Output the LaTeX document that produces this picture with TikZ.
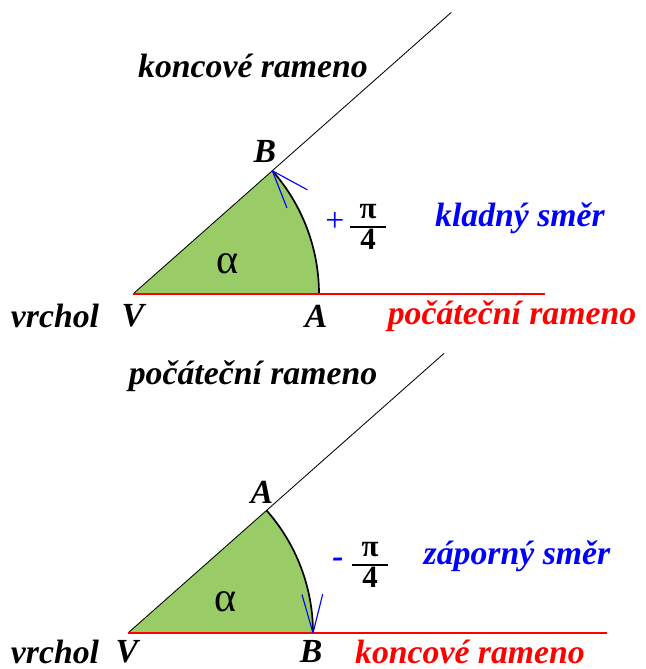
\documentclass[tikz,border=0pt]{standalone}
\usepackage{fontspec}
\setmainfont{Liberation Serif}
\usetikzlibrary{positioning}

\definecolor{sektor}{RGB}{153,204,102}
\newcommand{\ctvrtpi}{${\hbox to 25pt{\hss\raisebox{3pt}{π}\hss}\above1.4pt\hbox{\lower3pt\hbox{4}}}$}
\tikzset{
    popis/.style={font=\fontsize{24}{28}\selectfont\bfseries\itshape, inner sep=0pt},
    modry/.style={popis, text=blue},
    cerveny/.style={popis, text=red},
    znamenko/.style={font=\fontsize{24}{28}\selectfont, text=blue, inner sep=0pt},
    zlomek/.style={font=\fontsize{22}{26}\selectfont\bfseries, inner sep=0pt},
    alfa/.style={font=\fontsize{30}{30}\selectfont, inner sep=0pt},
    rameno/.style={draw=black, line width=0.6pt},
    pocatek/.style={draw=red, line width=1.4pt},
    oblouk/.style={draw=black, line width=1.2pt},
    sipka/.style={draw=blue, line width=0.8pt}
}

\begin{document}
\begin{tikzpicture}[x=0.025cm, y=0.025cm, node distance=8]

            \useasboundingbox (0,0) rectangle (645,669);

            % horni obrazek - kladny smer
            \coordinate (V1) at (133,375);
            \path (V1) ++(0:186) coordinate (A1);
            \path (V1) ++(41.5:186) coordinate (B1);
            \path (V1) ++(41.5:425) coordinate (K1);
            \coordinate (R1) at (545,375);

            \fill[sektor] (V1) -- (A1) arc[start angle=0, end angle=41.5, radius=186] -- cycle;
            \draw[oblouk] (A1) arc[start angle=0, end angle=41.5, radius=186];
            \draw[rameno] (V1) -- (K1);
            \draw[pocatek] (V1) -- (R1);
            \draw[sipka] (B1) -- ++(-28.5:40);
            \draw[sipka] (B1) -- ++(-68.5:40);

            \node[popis] (koncove1) at (253,603) {koncové rameno};
            \node[popis] (labB1) at (265,517) {B};
            \node[alfa] (alfa1) at (228,405) {α};
            \node[popis] (vrchol1) at (55,353) {vrchol};
            \node[popis] (labV1) at (133,353) {V};
            \node[popis] (labA1) at (316,353) {A};
            \node[cerveny] (pocatecni1) at (512,353) {počáteční rameno};
            \node[znamenko] (plus) at (335,447) {+};
            \node[zlomek] (pi1) at (368,442) {\ctvrtpi};
            \node[modry] (kladny) at (520,451) {kladný směr};

            % dolni obrazek - zaporny smer
            \coordinate (V2) at (128,36);
            \path (V2) ++(0:185) coordinate (B2);
            \path (V2) ++(41.5:185) coordinate (A2);
            \path (V2) ++(41.5:422) coordinate (K2);
            \coordinate (R2) at (607,36);

            \fill[sektor] (V2) -- (B2) arc[start angle=0, end angle=41.5, radius=185] -- cycle;
            \draw[oblouk] (B2) arc[start angle=0, end angle=41.5, radius=185];
            \draw[rameno] (V2) -- (K2);
            \draw[pocatek] (V2) -- (R2);
            \draw[sipka] (B2) -- ++(106:40);
            \draw[sipka] (B2) -- ++(76:40);

            \node[popis] (pocatecni2) at (253,293) {počáteční rameno};
            \node[popis] (labA2) at (262,177) {A};
            \node[alfa] (alfa2) at (226,67) {α};
            \node[popis] (vrchol2) at (55,17) {vrchol};
            \node[popis] (labV2) at (127,17) {V};
            \node[popis] (labB2) at (311,17) {B};
            \node[cerveny] (koncove2) at (470,17) {koncové rameno};
            \node[modry] (minus) at (338,106) {-};
            \node[zlomek] (pi2) at (370,104) {\ctvrtpi};
            \node[modry] (zaporny) at (517,113) {záporný směr};

\end{tikzpicture}
\end{document}
